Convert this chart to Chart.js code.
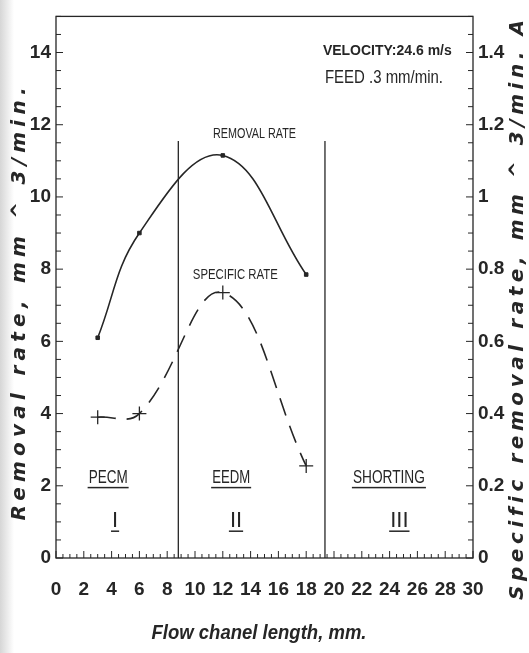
<!DOCTYPE html>
<html>
<head>
<meta charset="utf-8">
<script src="https://cdn.jsdelivr.net/npm/chart.js@4.4.1/dist/chart.umd.min.js"></script>
<style>
  html, body { margin: 0; padding: 0; background: #ffffff; }
  #wrap { width: 529px; height: 653px; }
</style>
</head>
<body>
<div id="wrap"><canvas id="c" width="529" height="653"></canvas></div>
<script>
// ---------------- data ----------------
const flowLength   = [3, 6, 12, 18];                 // mm
const removalRate  = [6.1, 9.0, 11.15, 7.85];        // mm^3/min (left axis)
const specificRate = [0.39, 0.40, 0.735, 0.255];     // mm^3/min.A (right axis)
const xTicks  = [0, 2, 4, 6, 8, 10, 12, 14, 16, 18, 20, 22, 24, 26, 28, 30];
const yTicks  = [0, 2, 4, 6, 8, 10, 12, 14];
const y2Ticks = [0, 0.2, 0.4, 0.6, 0.8, 1, 1.2, 1.4];
const regionBounds = [8.8, 19.35];
const regionBoundTop = 11.55;
const regionNames = ['PECM', 'EEDM', 'SHORTING'];
const regionNumerals = ['I', 'II', 'III'];

const INK = '#262626';
const SANS = '"Liberation Sans", Arial, sans-serif';
const tickFont = { family: SANS, size: 19, weight: 'bold' };

function seg(x, top) { return [{ x: x, y: 0 }, { x: x, y: top }]; }

const datasets = [
  {
    label: 'Removal rate',
    data: flowLength.map((x, i) => ({ x: x, y: removalRate[i] })),
    yAxisID: 'y',
    borderColor: INK, backgroundColor: INK,
    borderWidth: 1.6, tension: 0.4,
    pointStyle: 'rect', pointRadius: 2.5, pointBorderWidth: 1
  },
  {
    label: 'Specific rate',
    data: flowLength.map((x, i) => ({ x: x, y: specificRate[i] })),
    yAxisID: 'y1',
    borderColor: INK, backgroundColor: INK,
    borderWidth: 1.6, tension: 0.4, borderDash: [18, 11],
    pointStyle: 'cross', pointRadius: 7, pointBorderWidth: 1.3
  }
].concat(regionBounds.map(b => ({
  label: 'bound',
  data: seg(b, regionBoundTop),
  yAxisID: 'y',
  borderColor: INK, borderWidth: 1.3, pointRadius: 0, tension: 0
})));

// ---------------- plugin: paper, frame, inward ticks, texts ----------------
const decor = {
  id: 'decor',
  beforeDraw(chart) {
    const ctx = chart.ctx;
    ctx.save();
    const g = ctx.createLinearGradient(0, 0, 14, 0);
    g.addColorStop(0, '#d6d6d6');
    g.addColorStop(1, '#ffffff');
    ctx.fillStyle = '#ffffff';
    ctx.fillRect(0, 0, chart.width, chart.height);
    ctx.fillStyle = g;
    ctx.fillRect(0, 0, 14, chart.height);
    ctx.restore();
  },
  afterDatasetsDraw(chart) {
    const ctx = chart.ctx;
    const a = chart.chartArea;
    const sx = chart.scales.x, sy = chart.scales.y, sy2 = chart.scales.y1;
    ctx.save();
    ctx.strokeStyle = INK;
    ctx.lineWidth = 1.3;
    ctx.strokeRect(a.left, a.top, a.right - a.left, a.bottom - a.top);

    ctx.lineWidth = 1;
    ctx.beginPath();
    for (let v = sx.min; v <= sx.max + 1e-9; v += 0.5) {
      const p = sx.getPixelForValue(v);
      const major = Math.abs(v / 2 - Math.round(v / 2)) < 1e-9;
      const len = major ? 7 : 4;
      ctx.moveTo(p, a.bottom); ctx.lineTo(p, a.bottom - len);
    }
    for (let v = sy.min; v <= sy.max + 1e-9; v += 0.5) {
      const p = sy.getPixelForValue(v);
      const major = Math.abs(v / 2 - Math.round(v / 2)) < 1e-9;
      const len = major ? 7 : 5;
      ctx.moveTo(a.left, p); ctx.lineTo(a.left + len, p);
    }
    for (let k = 0; k <= 30; k++) {
      const v = k * 0.05;
      const p = sy2.getPixelForValue(v);
      const len = (k % 4 === 0) ? 7 : 5;
      ctx.moveTo(a.right, p); ctx.lineTo(a.right - len, p);
    }
    ctx.stroke();

    ctx.fillStyle = INK;
    ctx.textBaseline = 'middle';

    ctx.textAlign = 'left';
    ctx.font = 'bold 14px ' + SANS;
    ctx.fillText('VELOCITY:24.6 m/s', sx.getPixelForValue(19.2), sy.getPixelForValue(14.05), 134);
    ctx.font = '18px ' + SANS;
    ctx.fillText('FEED .3 mm/min.', sx.getPixelForValue(19.35), sy.getPixelForValue(13.3), 118);

    ctx.textAlign = 'center';
    ctx.font = '15px ' + SANS;
    ctx.fillText('REMOVAL RATE', sx.getPixelForValue(14.28), sy.getPixelForValue(11.75), 83);
    ctx.fillText('SPECIFIC RATE', sx.getPixelForValue(12.9), sy.getPixelForValue(7.84), 85);

    const nameX = [3.75, 12.6, 23.95];
    const nameW = [39, 38, 72];
    const numX = [4.25, 12.95, 24.7];
    function underlined(txt, x, y, maxW, font, gap) {
      ctx.font = font;
      const w = Math.min(ctx.measureText(txt).width, maxW || 1e9);
      ctx.fillText(txt, x, y, maxW);
      ctx.fillRect(x - w / 2 - 1, y + gap, w + 2, 1.5);
    }
    for (let i = 0; i < regionNames.length; i++) {
      underlined(regionNames[i], sx.getPixelForValue(nameX[i]), sy.getPixelForValue(2.22), nameW[i], '18px ' + SANS, 9);
      underlined(regionNumerals[i], sx.getPixelForValue(numX[i]), sy.getPixelForValue(1.04), undefined, '22px ' + SANS, 10);
    }

    function spacedVertical(txt, cx, cy, len, font) {
      ctx.save();
      ctx.translate(cx, cy);
      ctx.rotate(-Math.PI / 2);
      ctx.font = font;
      ctx.letterSpacing = '0px';
      const w0 = ctx.measureText(txt).width;
      const sp = Math.max(0, (len - w0) / (txt.length - 1));
      ctx.letterSpacing = sp.toFixed(2) + 'px';
      ctx.textAlign = 'left';
      ctx.fillText(txt, -len / 2, 0);
      ctx.restore();
    }
    const titleFont = 'oblique bold 20px "DejaVu Sans", sans-serif';
    spacedVertical('Removal rate, mm ^ 3/min.', 20, 304, 433, titleFont);
    spacedVertical('Specific removal rate, mm ^ 3/min. A', 518, 310, 580, titleFont);

    ctx.textAlign = 'center';
    ctx.font = 'italic bold 20px ' + SANS;
    ctx.fillText('Flow chanel length, mm.', 259, 633, 215);
    ctx.restore();
  }
};

const fmt = v => String(Math.round(v * 100) / 100);

new Chart(document.getElementById('c'), {
  type: 'line',
  data: { datasets: datasets },
  options: {
    responsive: false,
    animation: false,
    events: [],
    layout: { padding: { top: 10, left: 0, right: 0, bottom: 0 } },
    plugins: { legend: { display: false }, tooltip: { enabled: false } },
    scales: {
      x: {
        type: 'linear', min: 0, max: 30,
        afterBuildTicks: s => { s.ticks = xTicks.map(v => ({ value: v })); },
        afterFit: s => { s.height = 95; },
        grid: { display: false, drawTicks: false },
        border: { display: false },
        ticks: { font: tickFont, color: INK, padding: 20, maxRotation: 0, autoSkip: false, callback: fmt }
      },
      y: {
        type: 'linear', position: 'left', min: 0, max: 15,
        afterBuildTicks: s => { s.ticks = yTicks.map(v => ({ value: v })); },
        afterFit: s => { s.width = 56; },
        grid: { display: false, drawTicks: false },
        border: { display: false },
        ticks: { font: tickFont, color: INK, padding: 5, callback: fmt }
      },
      y1: {
        type: 'linear', position: 'right', min: 0, max: 1.5,
        afterBuildTicks: s => { s.ticks = y2Ticks.map(v => ({ value: v })); },
        afterFit: s => { s.width = 56; },
        grid: { display: false, drawTicks: false },
        border: { display: false },
        ticks: { font: tickFont, color: INK, padding: 5, callback: fmt }
      }
    }
  },
  plugins: [decor]
});
</script>
</body>
</html>
